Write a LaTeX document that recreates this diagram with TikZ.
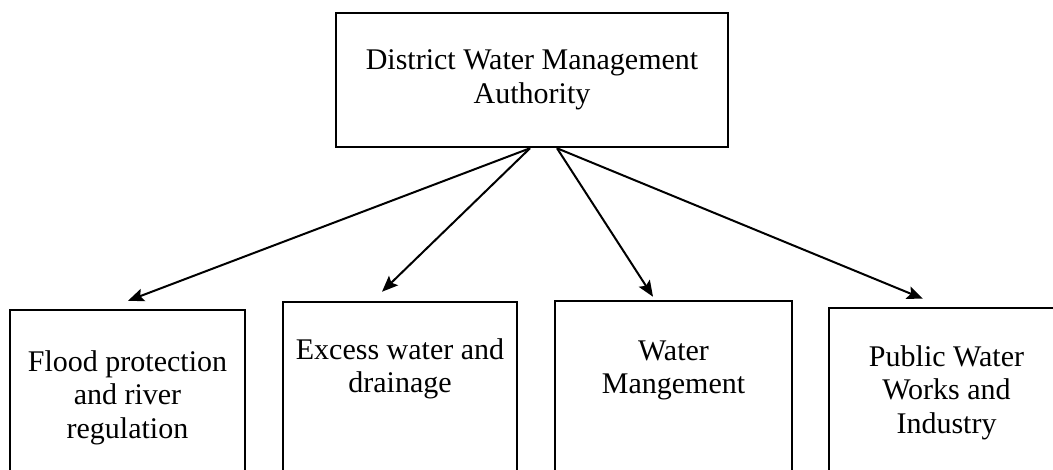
\documentclass[tikz,border=0pt]{standalone}
\usepackage{fontspec}
\setmainfont{Liberation Serif}
\usetikzlibrary{arrows.meta,calc}
\begin{document}
\begin{tikzpicture}[x=0.5pt,y=-0.5pt,
  box/.style={draw, line width=1.25pt, rectangle, inner sep=0pt},
  lbl/.style={align=center, font=\fontsize{15}{16.8}\selectfont, inner sep=0pt},
  arr/.style={line width=1pt, -{Stealth[length=8pt,width=6.5pt,inset=1.5pt]}}]
\useasboundingbox (0,0) rectangle (1053,470);
\clip (0,0) rectangle (1053,470);
% top box
\node[box, lbl, minimum width=196pt, minimum height=67pt] (dwma) at (532,80) {District Water Management\\Authority};
% bottom boxes (cut off by the lower border)
\node[box, minimum width=117.5pt, minimum height=90pt] (b1) at (127.5,400) {};
\node[box, minimum width=117pt, minimum height=94pt] (b2) at (400,396) {};
\node[box, minimum width=118.5pt, minimum height=94.5pt] (b3) at (673.5,395.5) {};
\node[box, minimum width=117.5pt, minimum height=91pt] (b4) at (946.5,399) {};
% texts
\node[lbl, anchor=north] (b1t) at (127.5,350) {Flood protection\\and river\\regulation};
\node[lbl, anchor=north] (b2t) at (400,338) {Excess water and\\drainage};
\node[lbl, anchor=north] (b3t) at (673.5,340) {Water\\Mangement};
\node[lbl, anchor=north] (b4t) at (946.5,345) {Public Water\\Works and\\Industry};
% connector ends
\coordinate (s1) at ($(dwma.south)+(-2,0)$);
\coordinate (s2) at ($(dwma.south)+(25,0)$);
\coordinate (t1) at ($(b1.north)+(0.5,-8)$);
\coordinate (t2) at ($(b2.north)+(-18,-9)$);
\coordinate (t3) at ($(b3.north)+(-20.5,-3)$);
\coordinate (t4) at ($(b4.north)+(-23.5,-8)$);
\draw[arr] (s1) -- (t1);
\draw[arr] (s1) -- (t2);
\draw[arr] (s2) -- (t3);
\draw[arr] (s2) -- (t4);
\end{tikzpicture}
\end{document}
